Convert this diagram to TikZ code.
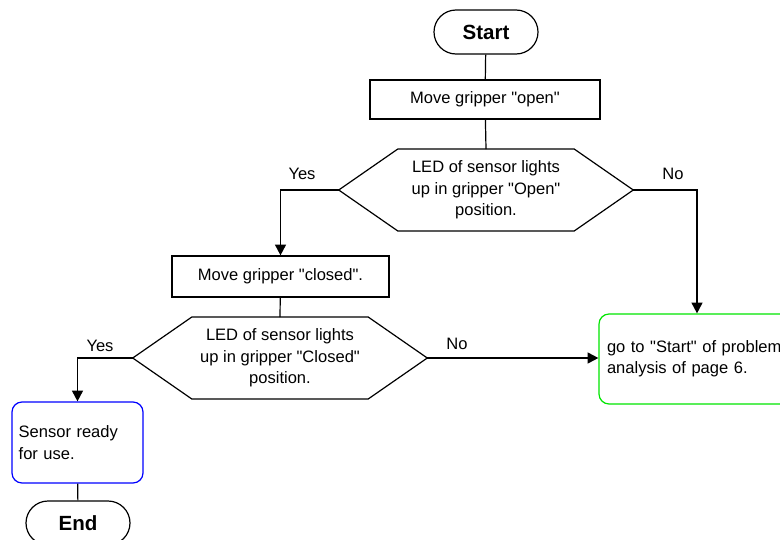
\documentclass[tikz,border=0pt]{standalone}
\usepackage{fontspec}
\setmainfont{Liberation Sans}
\usetikzlibrary{arrows.meta,calc}
\definecolor{gbox}{RGB}{0,230,0}
\definecolor{bbox}{RGB}{0,0,255}
\newcommand{\dq}{\textquotedbl}
\tikzset{
  base/.style={font=\fontsize{12.4pt}{16pt}\selectfont, inner sep=0pt},
  term/.style={base, draw, line width=0.9pt, rounded corners=16.5pt, minimum width=78pt, minimum height=33pt, font=\fontsize{15.4pt}{18pt}\selectfont\bfseries},
  proc/.style={base, draw, line width=0.9pt, align=center},
  hexn/.style={base, align=center, minimum width=220.5pt, minimum height=61pt},
  endbox/.style={base, draw, line width=0.9pt, rounded corners=7.5pt, align=left, inner xsep=5pt},
  lbl/.style={base},
  ln/.style={line width=0.9pt},
  arr/.style={line width=1.4pt, -{Triangle[length=8pt,width=8pt]}},
}
\begin{document}
\begin{tikzpicture}[x=0.75pt,y=-0.75pt]
\useasboundingbox (0,0) rectangle (780,539);
\clip (0,0) rectangle (780,539);
\fill[white] (0,0) rectangle (780,539);

\node[term] (start) at (486,32) {Start};
\node[proc, minimum width=172.5pt, minimum height=29.25pt] (b1) at (485,99.5) {Move gripper \dq open\dq};
\node[hexn] (h1) at (486,190) {LED of sensor lights\\up in gripper \dq Open\dq\\position.};
\draw[ln] (h1.west) -- ($(h1.north west)+(59,0)$) -- ($(h1.north east)+(-59,0)$) -- (h1.east)
  -- ($(h1.south east)+(-59,0)$) -- ($(h1.south west)+(59,0)$) -- cycle;

\node[proc, minimum width=162.75pt, minimum height=30.75pt] (b2) at (280.5,276.5) {Move gripper \dq closed\dq.};
\node[hexn] (h2) at (280,358) {LED of sensor lights\\up in gripper \dq Closed\dq\\position.};
\draw[ln] (h2.west) -- ($(h2.north west)+(59,0)$) -- ($(h2.north east)+(-59,0)$) -- (h2.east)
  -- ($(h2.south east)+(-59,0)$) -- ($(h2.south west)+(59,0)$) -- cycle;

\node[endbox, draw=gbox, text width=135pt, minimum width=147pt, minimum height=67.5pt, inner xsep=6pt] (go) at (697,359) {go to \dq Start\dq\ of problem\\analysis of page 6.};
\node[endbox, draw=bbox, text width=88.25pt, minimum width=98.25pt, minimum height=60.75pt] (ready) at (77.5,442.5) {Sensor ready\\for use.};
\node[term] (end) at (78,523) {End};

\draw[ln] (start) -- (b1);
\draw[ln] (b1) -- (h1.north);
\draw[arr] (h1.west) -| (b2.north);
\draw[arr] (h1.east) -| (go.north);
\draw[ln] (b2) -- (h2.north);
\draw[arr] (h2.west) -| (ready.north);
\draw[arr] (h2.east) -- (h2.east -| go.west);
\draw[ln] (ready) -- (end);

\node[lbl] (y1) at (302,174) {Yes};
\node[lbl] (n1) at (673,174) {No};
\node[lbl] (y2) at (100,346) {Yes};
\node[lbl] (n2) at (457,344) {No};
\end{tikzpicture}
\end{document}
